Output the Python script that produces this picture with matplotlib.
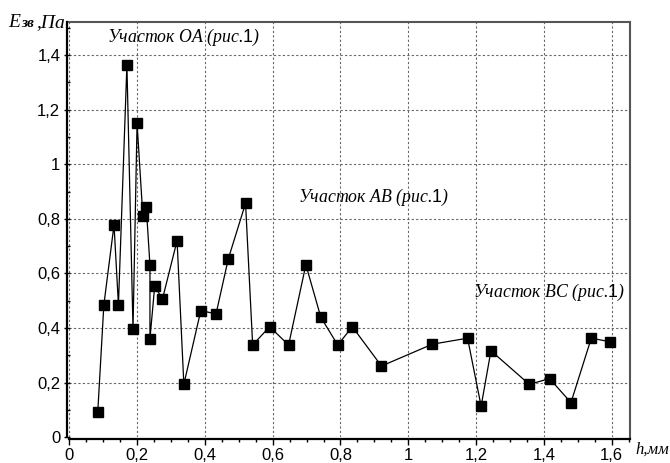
import matplotlib
matplotlib.use("Agg")
import matplotlib.pyplot as plt
from matplotlib.ticker import MultipleLocator, FuncFormatter

plt.rcParams['font.family'] = ['Liberation Sans', 'DejaVu Sans']
plt.rcParams['mathtext.fontset'] = 'custom'
plt.rcParams['mathtext.sf'] = 'Liberation Sans'

# h, mm  and  E_zv, Pa
h = [0.084, 0.102, 0.132, 0.145, 0.170, 0.188, 0.200, 0.217, 0.227, 0.238,
     0.238, 0.252, 0.275, 0.318, 0.338, 0.388, 0.433, 0.469, 0.520, 0.541,
     0.591, 0.647, 0.698, 0.742, 0.792, 0.835, 0.921, 1.071, 1.175, 1.215,
     1.244, 1.357, 1.417, 1.480, 1.540, 1.595]
e_zv = [0.092, 0.485, 0.778, 0.485, 1.364, 0.396, 1.150, 0.811, 0.845, 0.631,
        0.361, 0.553, 0.507, 0.720, 0.194, 0.464, 0.452, 0.653, 0.857, 0.338,
        0.405, 0.338, 0.632, 0.440, 0.338, 0.405, 0.261, 0.341, 0.363, 0.114,
        0.317, 0.194, 0.215, 0.127, 0.363, 0.350]

x_ticks = [0, 0.2, 0.4, 0.6, 0.8, 1.0, 1.2, 1.4, 1.6]
y_ticks = [0, 0.2, 0.4, 0.6, 0.8, 1.0, 1.2, 1.4]

def comma(v, pos):
    s = ('%.1f' % v).rstrip('0').rstrip('.')
    return s.replace('.', ',')

fig = plt.figure(figsize=(6.7, 4.63), dpi=100)
ax = fig.add_axes([0.1034, 0.0555, 0.8373, 0.897])

ax.plot(h, e_zv, color='black', lw=0.9, marker='s', markersize=6.5,
        markerfacecolor='black', markeredgecolor='black', zorder=3)

ax.set_xlim(0, 1.655)
ax.set_ylim(0, 1.521)
ax.set_xticks(x_ticks)
ax.set_yticks(y_ticks)
ax.xaxis.set_major_formatter(FuncFormatter(comma))
ax.yaxis.set_major_formatter(FuncFormatter(comma))
ax.xaxis.set_minor_locator(MultipleLocator(0.05))
ax.yaxis.set_minor_locator(MultipleLocator(0.1))
ax.tick_params(axis='x', which='major', direction='out', length=4, width=1,
               labelsize=12, pad=3)
ax.tick_params(axis='x', which='minor', direction='out', length=2.5, width=1)
ax.tick_params(axis='y', which='major', direction='inout', length=5, width=1,
               labelsize=12, pad=2)
ax.tick_params(axis='y', which='minor', direction='in', length=2.5, width=1)

ax.grid(True, which='major', color='#666666', lw=0.8, linestyle=(0, (2, 2)))

for side in ['left', 'bottom']:
    ax.spines[side].set_color('black')
    ax.spines[side].set_linewidth(1.6)
ax.spines['left'].set_position(('outward', 2))
ax.spines['bottom'].set_position(('outward', 1))
for side in ['top', 'right']:
    ax.spines[side].set_color('#555555')
    ax.spines[side].set_linewidth(1.5)

lab = dict(family=['Liberation Serif', 'DejaVu Serif'], style='italic',
           fontsize=12.8, ha='left', va='center')
ax.text(0.11, 1.463, 'Участок ОА (рис.$\\mathsf{1}$)', **lab)
ax.text(0.675, 0.877, 'Участок АВ (рис.$\\mathsf{1}$)', **lab)
ax.text(1.19, 0.53, 'Участок ВС (рис.$\\mathsf{1}$)', **lab)

serif = ['Liberation Serif', 'DejaVu Serif']
fig.text(8 / 670, 1 - 27 / 463, 'E', family=serif, style='italic',
         fontsize=14, va='baseline', ha='left')
fig.text(21 / 670, 1 - 27 / 463, 'зв', family=serif, style='italic',
         weight='bold', fontsize=11, va='baseline', ha='left')
fig.text(36 / 670, 1 - 27 / 463, ',Па', family=serif, style='italic',
         fontsize=14, va='baseline', ha='left')
fig.text(669 / 670, 1 - 454 / 463, 'h,мм', family=serif, style='italic',
         fontsize=12, va='baseline', ha='right')

fig.savefig('out.png', dpi=100)
